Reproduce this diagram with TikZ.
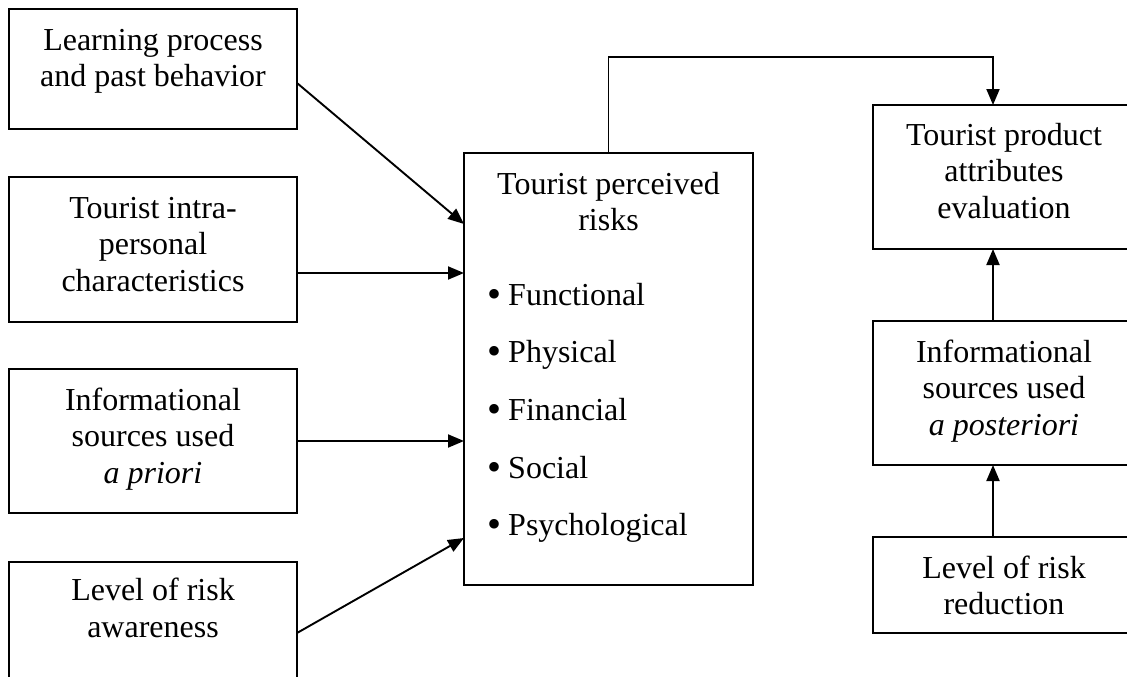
\documentclass[tikz,border=0pt]{standalone}
\usepackage{fontspec}
\setmainfont{Liberation Serif}
\usetikzlibrary{arrows.meta,calc}
\newcommand{\itembullet}{\raisebox{-2pt}{\fontsize{40}{40}\selectfont•}\hspace{7pt}}
\begin{document}
\begin{tikzpicture}[x=1pt,y=-1pt,
  frame/.style={draw, line width=1.9pt, anchor=north west, inner sep=0pt, outer sep=0pt},
  txt/.style={anchor=north, inner sep=0pt, align=center, font=\fontsize{32}{36.5}\selectfont},
  item/.style={anchor=base west, inner sep=0pt, font=\fontsize{32}{36.5}\selectfont},
  conn/.style={line width=1.9pt, -{Triangle[length=16pt,width=13pt]}}]
\useasboundingbox (0,0) rectangle (1127,677);
\clip (0,0) rectangle (1127,677);

% left column: influencing factors
\node[frame, minimum width=288pt, minimum height=120pt] (b1) at (9,9) {};
\node[frame, minimum width=288pt, minimum height=145pt] (b2) at (9,177) {};
\node[frame, minimum width=288pt, minimum height=144pt] (b3) at (9,369) {};
\node[frame, minimum width=288pt, minimum height=142pt] (b4) at (9,562) {};

\node[txt] (t1) at ([yshift=-15.5pt]b1.north) {\strut Learning process\\and past behavior};
\node[txt] (t2) at ([yshift=-15.5pt]b2.north) {\strut Tourist intra-\\personal\\characteristics};
\node[txt] (t3) at ([yshift=-15.5pt]b3.north) {\strut Informational\\sources used\\\textit{a priori}};
\node[txt] (t4) at ([yshift=-13pt]b4.north) {\strut Level of risk\\awareness};

% central box: perceived risks
\node[frame, minimum width=289pt, minimum height=432pt] (c) at (464,153) {};
\node[txt] (ct) at ([yshift=-15.5pt]c.north) {\strut Tourist perceived\\risks};
\node[item] (i1) at (487,305) {\itembullet Functional};
\node[item] (i2) at (487,362) {\itembullet Physical};
\node[item] (i3) at (487,420) {\itembullet Financial};
\node[item] (i4) at (487,478) {\itembullet Social};
\node[item] (i5) at (487,535) {\itembullet Psychological};

% right column: evaluation chain
\node[frame, minimum width=262pt, minimum height=144pt] (r1) at (873,105) {};
\node[frame, minimum width=262pt, minimum height=144pt] (r2) at (873,321) {};
\node[frame, minimum width=262pt, minimum height=96pt] (r3) at (873,537) {};

\node[txt] (rt1) at ([yshift=-14.5pt]r1.north) {\strut Tourist product\\attributes\\evaluation};
\node[txt] (rt2) at ([yshift=-15.5pt]r2.north) {\strut Informational\\sources used\\\textit{a posteriori}};
\node[txt] (rt3) at ([yshift=-15.5pt]r3.north) {\strut Level of risk\\reduction};

% connectors into the central box
\draw[conn] ([yshift=-14pt]b1.east) -- ([yshift=-71pt]c.north west);
\coordinate (a2s) at ([yshift=-23.5pt]b2.east);
\draw[conn] (a2s) -- (a2s -| c.west);
\draw[conn] (b3.east) -- (b3.east -| c.west);
\draw[conn] (b4.east) -- ([yshift=-385pt]c.north west);

% connectors on the right
\coordinate (r1in) at ([xshift=120pt]r1.north west);
\coordinate (r2in) at ([xshift=120pt]r2.north west);
\coordinate (r3in) at ([xshift=120pt]r3.north west);
\draw[conn] (c.north) -- ++(0,-96) -| (r1in);
\draw[conn] (r2in) -- (r2in |- r1.south);
\draw[conn] (r3in) -- (r3in |- r2.south);
\end{tikzpicture}
\end{document}
